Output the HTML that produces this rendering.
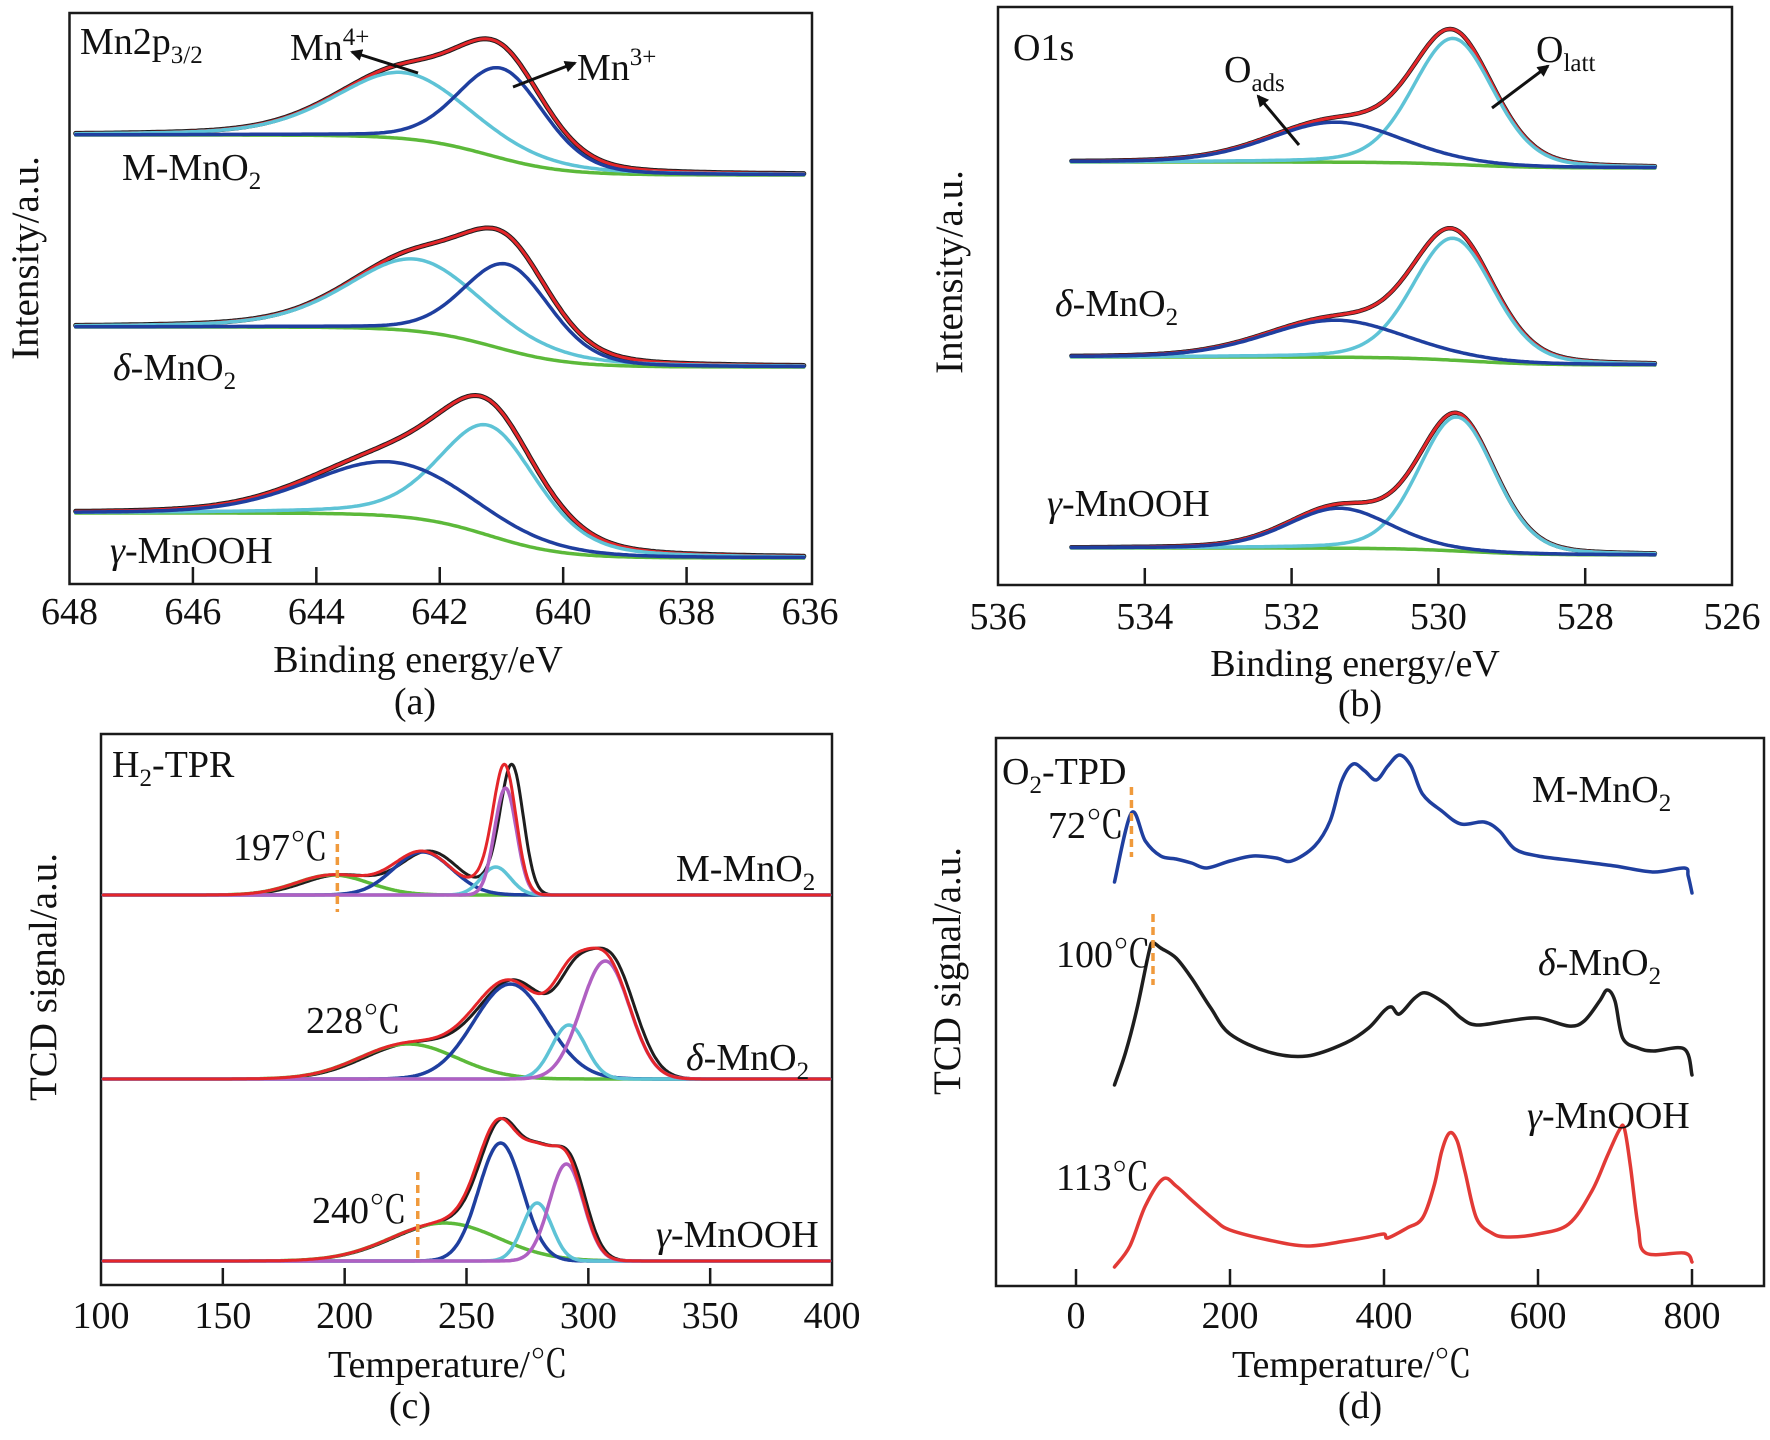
<!DOCTYPE html>
<html><head><meta charset="utf-8">
<style>
html,body{margin:0;padding:0;background:#fff;}
svg{display:block;}
text{font-family:"Liberation Serif","Noto Serif CJK SC",serif;fill:#111;}
</style></head>
<body>
<svg id="fig" width="1770" height="1440" viewBox="0 0 1770 1440" xmlns="http://www.w3.org/2000/svg">
<defs>
<marker id="arr" markerWidth="12" markerHeight="12" refX="10" refY="6" orient="auto" markerUnits="userSpaceOnUse"><path d="M0,0 L12,6 L0,12 z" fill="#111"/></marker>
</defs>
<g id="pa"></g>
<g id="pb"></g>
<g id="pc"></g>
<g id="pd"></g>
</svg>
<script>
// ---------- Panel (a) Mn2p3/2 data ----------
const aTicks = [648,646,644,642,640,638,636];
const aBgHigh = [451,259,73];
const aBgLow  = [411,219,28];
const aMn4 = [[642.6,66,1.1],[642.4,72,1.1],[641.2,110,0.8]];
const aMn3 = [[641.0,90,0.7],[640.9,86,0.7],[642.8,54,1.3]];
const aStepCenter = [641.2,641.1,641.2];
// ---------- Panel (b) O1s data ----------
const bTicks = [536,534,532,530,528,526];
const bBgHigh = [423,228,37];
const bBgLow  = [417,220,30];
const bOads  = [[531.4,40,0.9],[531.4,37,0.95],[531.35,40,0.7]];
const bOlatt = [[529.8,126,0.55],[529.8,122,0.55],[529.75,134,0.52]];
// ---------- Panel (c) H2-TPR data ----------
const cTicks = [100,150,200,250,300,350,400];
const cBase = [390,206,24];
const cGreen   = [[195,20,15],[226,35,20],[241,38,22]];
const cBlue    = [[232,43,12],[268,95,15],[264,118,9]];
const cCyan    = [[262,28,6],[292,54,7],[279,58,6]];
const cMagenta = [[266,107,4.5],[307,118,10],[291,97,7]];
const cBlackShift = [3,2,1];
const cMarks = [197,228,240];
// ---------- Panel (d) O2-TPD data ----------
const dTicks = [0,200,400,600,800];
const dMT = [50,72,90,110,130,150,170,200,230,260,280,310,330,345,360,375,390,405,420,435,450,475,500,530,550,570,600,650,700,750,790,795,800];
const dMV = [404,473,445,430,427,423,418,425,430,428,425,440,465,505,522,515,506,520,531,520,492,475,462,464,455,437,430,425,420,414,418,410,393];
const dDT = [50,65,80,95,100,110,130,150,175,200,250,300,350,380,400,410,420,440,455,480,500,520,560,600,640,660,680,690,700,710,730,750,790,800];
const dDV = [201,235,280,335,343,338,328,308,278,252,234,230,243,258,275,279,272,288,293,282,268,261,265,268,260,265,285,296,285,248,238,235,237,211];
const dGT = [50,70,90,113,130,150,180,200,250,300,350,380,400,405,430,450,465,475,485,495,505,520,540,560,600,640,670,690,705,712,720,730,740,790,800];
const dGV = [19,40,80,107,100,86,66,56,46,40,45,49,52,48,58,68,100,135,153,145,115,68,53,49,52,62,95,130,155,158,120,60,33,33,24];
const dMarks = [72,100];

const NS = 'http://www.w3.org/2000/svg';
const COL = {black:'#1e1e1e', red:'#e4262a', cyan:'#5ec3d6', blue:'#1f3f9f', green:'#5cb93a', magenta:'#b060c2', orange:'#f09a3c'};

function el(parent, tag, attrs){
  const e = document.createElementNS(NS, tag);
  for (const k in attrs) e.setAttribute(k, attrs[k]);
  parent.appendChild(e);
  return e;
}
function pathFrom(pts){
  let d = 'M' + pts[0][0].toFixed(1) + ',' + pts[0][1].toFixed(1);
  for (let i=1;i<pts.length;i++) d += 'L' + pts[i][0].toFixed(1) + ',' + pts[i][1].toFixed(1);
  return d;
}
function smoothPath(pts){
  let d = 'M' + pts[0][0].toFixed(1) + ',' + pts[0][1].toFixed(1);
  for (let i=0;i<pts.length-1;i++){
    const p0 = pts[Math.max(0,i-1)], p1 = pts[i], p2 = pts[i+1], p3 = pts[Math.min(pts.length-1,i+2)];
    const c1x = p1[0] + (p2[0]-p0[0])/6, c1y = p1[1] + (p2[1]-p0[1])/6;
    const c2x = p2[0] - (p3[0]-p1[0])/6, c2y = p2[1] - (p3[1]-p1[1])/6;
    d += 'C' + c1x.toFixed(1)+','+c1y.toFixed(1)+' '+c2x.toFixed(1)+','+c2y.toFixed(1)+' '+p2[0].toFixed(1)+','+p2[1].toFixed(1);
  }
  return d;
}
function pv(x, c, lf){
  const g = Math.exp(-Math.pow((x-c[0])/c[2],2)/2);
  const l = 1/(1+Math.pow((x-c[0])/(c[2]*1.18),2));
  return c[1]*((1-lf)*g+lf*l);
}
function gau(x, c){ return c[1]*Math.exp(-Math.pow((x-c[0])/c[2],2)/2); }
function linScale(d0,d1,r0,r1){ return v => r0 + (v-d0)*(r1-r0)/(d1-d0); }

function frame(g, x0,y0,x1,y1){
  const r = el(g,'rect',{x:x0,y:y0,width:x1-x0,height:y1-y0,fill:'none',stroke:'#1a1a1a','stroke-width':2.5});
  
  
}
function xAxis(g, ticks, xs, yb, labelY, skipEnds){
  ticks.forEach((t,i)=>{
    const x = xs(t);
    if (!(skipEnds && (i===0 || i===ticks.length-1))){
      const tk = el(g,'line',{x1:x,x2:x,y1:yb,y2:yb-17,stroke:'#1a1a1a','stroke-width':2.5});
      
      
    }
    const tx = el(g,'text',{x:x,y:labelY,'text-anchor':'middle','font-size':38});
    tx.textContent = t;
    
    
  });
}
function txt(g, x, y, s, size, name, anchor){
  const t = el(g,'text',{x:x,y:y,'font-size':size,'text-anchor':anchor||'start'});
  t.innerHTML = s;
  
  
  return t;
}
function ytitle(g, x, y, s, name){
  const t = el(g,'text',{x:0,y:0,'font-size':39,'text-anchor':'middle',transform:'translate('+x+','+y+') rotate(-90)'});
  t.textContent = s;
  
  
}
function curve(g, pts, color, w, name, smooth){
  const p = el(g,'path',{d: smooth?smoothPath(pts):pathFrom(pts), fill:'none', stroke:color,'stroke-width':w,'stroke-linejoin':'round','stroke-linecap':'round'});
  
  
  return p;
}
function dashed(g, x, y0, y1, name){
  const l = el(g,'line',{x1:x,x2:x,y1:y0,y2:y1,stroke:COL.orange,'stroke-width':3.5,'stroke-dasharray':'8,5'});
  
  
}
function arrow(g, x1,y1,x2,y2,name){
  const l = el(g,'line',{x1:x1,y1:y1,x2:x2,y2:y2,stroke:'#111','stroke-width':3,'marker-end':'url(#arr)'});
  
  
}
const SUB = (s)=>'<tspan font-size="25" dy="9">'+s+'</tspan>';
const SUP = (s)=>'<tspan font-size="25" dy="-15">'+s+'</tspan>';
const L = 38;

// ---------- Draw (a) ----------
(function(){
  const g = document.getElementById('pa');
  const xs = linScale(648,636,69.5,810);
  const ys = v => 586 - v;
  frame(g,69.5,13,812,584);
  xAxis(g,aTicks,xs,584,624,true);
  const names = ['m-mno2','delta-mno2','gamma-mnooh'];
  for (let s=0;s<3;s++){
    const bg=[],cy=[],bl=[],fit=[];
    for (let e=647.9;e>=636.1;e-=0.04){
      const step = 1/(1+Math.exp(-(e-aStepCenter[s])/0.6));
      const b = aBgLow[s] + (aBgHigh[s]-aBgLow[s])*step;
      const c1 = pv(e,aMn4[s],0.35), c2 = pv(e,aMn3[s],0.2);
      bg.push([xs(e),ys(b)]); cy.push([xs(e),ys(b+c1)]); bl.push([xs(e),ys(b+c2)]);
      fit.push([xs(e),ys(b+c1+c2)]);
    }
    curve(g,fit,COL.black,5,'observed-'+names[s]);
    curve(g,fit,COL.red,3,'fit-envelope-'+names[s]);
    curve(g,bg,COL.green,3.5,'background-'+names[s]);
    curve(g,cy,COL.cyan,3.5,(s<2?'mn4-peak-':'mn3-peak-')+names[s]);
    curve(g,bl,COL.blue,3.5,(s<2?'mn3-peak-':'mn4-peak-')+names[s]);
  }
  txt(g,80,54,'Mn2p'+SUB('3/2'),L,'panel-a-title');
  txt(g,290,60,'Mn'+SUP('4+'),L,'mn4-label');
  arrow(g,418,73,352,52,'mn4-arrow');
  txt(g,577,80,'Mn'+SUP('3+'),L,'mn3-label');
  arrow(g,513,87,575,63,'mn3-arrow');
  txt(g,122,180,'M-MnO'+SUB('2'),L,'label-m-mno2');
  txt(g,113,380,'<tspan font-style="italic">δ</tspan>-MnO'+SUB('2'),L,'label-delta-mno2');
  txt(g,110,563,'<tspan font-style="italic">γ</tspan>-MnOOH',L,'label-gamma-mnooh');
  ytitle(g,38,258,'Intensity/a.u.','y-axis-title-a');
  txt(g,418,672,'Binding energy/eV',38,'x-axis-title-a','middle');
  txt(g,415,714,'(a)',38,'panel-label-a','middle');
})();

// ---------- Draw (b) ----------
(function(){
  const g = document.getElementById('pb');
  const xs = linScale(536,526,998,1732);
  const ys = v => 585 - v;
  frame(g,998,7,1732,585);
  xAxis(g,bTicks,xs,585,629,true);
  const names = ['m-mno2','delta-mno2','gamma-mnooh'];
  for (let s=0;s<3;s++){
    const bg=[],cy=[],bl=[],fit=[];
    for (let e=535;e>=527.05;e-=0.03){
      const step = 1/(1+Math.exp(-(e-529.6)/0.5));
      const b = bBgLow[s] + (bBgHigh[s]-bBgLow[s])*step;
      const c1 = pv(e,bOads[s],0.2), c2 = pv(e,bOlatt[s],0.2);
      bg.push([xs(e),ys(b)]); bl.push([xs(e),ys(b+c1)]); cy.push([xs(e),ys(b+c2)]);
      fit.push([xs(e),ys(b+c1+c2)]);
    }
    curve(g,fit,COL.black,4.5,'observed-'+names[s]);
    curve(g,fit,COL.red,3,'fit-envelope-'+names[s]);
    curve(g,bg,COL.green,3.5,'background-'+names[s]);
    curve(g,cy,COL.cyan,3.5,'olatt-peak-'+names[s]);
    curve(g,bl,COL.blue,3.5,'oads-peak-'+names[s]);
  }
  txt(g,1013,60,'O1s',L,'panel-b-title');
  txt(g,1224,82,'O'+SUB('ads'),L,'oads-label');
  arrow(g,1299,145,1258,96,'oads-arrow');
  txt(g,1536,62,'O'+SUB('latt'),L,'olatt-label');
  arrow(g,1492,108,1548,66,'olatt-arrow');
  txt(g,1055,316,'<tspan font-style="italic">δ</tspan>-MnO'+SUB('2'),L,'label-delta-mno2');
  txt(g,1047,516,'<tspan font-style="italic">γ</tspan>-MnOOH',L,'label-gamma-mnooh');
  ytitle(g,962,272,'Intensity/a.u.','y-axis-title-b');
  txt(g,1355,676,'Binding energy/eV',38,'x-axis-title-b','middle');
  txt(g,1360,716,'(b)',38,'panel-label-b','middle');
})();

// ---------- Draw (c) ----------
(function(){
  const g = document.getElementById('pc');
  const xs = linScale(100,400,101,832);
  const ys = v => 1285 - v;
  frame(g,101,734,832,1285);
  xAxis(g,cTicks,xs,1285,1328,true);
  const names = ['m-mno2','delta-mno2','gamma-mnooh'];
  const comps = [cGreen,cBlue,cCyan,cMagenta];
  const cols = [COL.green,COL.blue,COL.cyan,COL.magenta];
  const cn = ['green','blue','cyan','magenta'];
  for (let s=0;s<3;s++){
    const fit=[],obs=[],parts=[[],[],[],[]];
    for (let t=101;t<=399;t+=0.5){
      let sum=0, sumS=0;
      comps.forEach((c,k)=>{ const v=gau(t,c[s]); sum+=v; parts[k].push([xs(t),ys(cBase[s]+v)]); sumS+=gau(t-cBlackShift[s],c[s]); });
      fit.push([xs(t),ys(cBase[s]+sum)]); obs.push([xs(t),ys(cBase[s]+sumS)]);
    }
    curve(g,obs,COL.black,3,'observed-'+names[s]);
    parts.forEach((p,k)=>curve(g,p,cols[k],3.5,cn[k]+'-peak-'+names[s]));
    curve(g,fit,COL.red,3,'fit-envelope-'+names[s]);
  }
  dashed(g,xs(cMarks[0]),831,912,'marker-197');
  dashed(g,xs(230),1172,1258,'marker-240');
  txt(g,112,777,'H'+SUB('2')+'<tspan dy="-9">-TPR</tspan>',L,'panel-c-title');
  txt(g,233,860,cMarks[0]+'℃',L,'label-197');
  txt(g,306,1033,cMarks[1]+'℃',L,'label-228');
  txt(g,312,1223,cMarks[2]+'℃',L,'label-240');
  txt(g,676,881,'M-MnO'+SUB('2'),L,'label-m-mno2');
  txt(g,686,1070,'<tspan font-style="italic">δ</tspan>-MnO'+SUB('2'),L,'label-delta-mno2');
  txt(g,656,1247,'<tspan font-style="italic">γ</tspan>-MnOOH',L,'label-gamma-mnooh');
  ytitle(g,56,977,'TCD signal/a.u.','y-axis-title-c');
  txt(g,448,1377,'Temperature/℃',38,'x-axis-title-c','middle');
  txt(g,410,1418,'(c)',38,'panel-label-c','middle');
})();

// ---------- Draw (d) ----------
(function(){
  const g = document.getElementById('pd');
  const xs = linScale(0,800,1076,1692);
  const ys = v => 1286 - v;
  frame(g,996,738,1764,1286);
  xAxis(g,dTicks,xs,1286,1328,false);
  curve(g,dMT.map((t,i)=>[xs(t),ys(dMV[i])]),COL.blue,3.5,'m-mno2-trace',true);
  curve(g,dDT.map((t,i)=>[xs(t),ys(dDV[i])]),COL.black,3.5,'delta-mno2-trace',true);
  curve(g,dGT.map((t,i)=>[xs(t),ys(dGV[i])]),'#e23a36',3.5,'gamma-mnooh-trace',true);
  dashed(g,xs(dMarks[0]),787,857,'marker-72');
  dashed(g,xs(dMarks[1]),914,985,'marker-100');
  txt(g,1002,784,'O'+SUB('2')+'<tspan dy="-9">-TPD</tspan>',L,'panel-d-title');
  txt(g,1048,838,'72℃',L,'label-72');
  txt(g,1056,967,'100℃',L,'label-100');
  txt(g,1056,1190,'113℃',L,'label-113');
  txt(g,1532,802,'M-MnO'+SUB('2'),L,'label-m-mno2');
  txt(g,1538,975,'<tspan font-style="italic">δ</tspan>-MnO'+SUB('2'),L,'label-delta-mno2');
  txt(g,1527,1128,'<tspan font-style="italic">γ</tspan>-MnOOH',L,'label-gamma-mnooh');
  ytitle(g,960,971,'TCD signal/a.u.','y-axis-title-d');
  txt(g,1352,1377,'Temperature/℃',38,'x-axis-title-d','middle');
  txt(g,1360,1418,'(d)',38,'panel-label-d','middle');
})();
</script>
</body></html>
